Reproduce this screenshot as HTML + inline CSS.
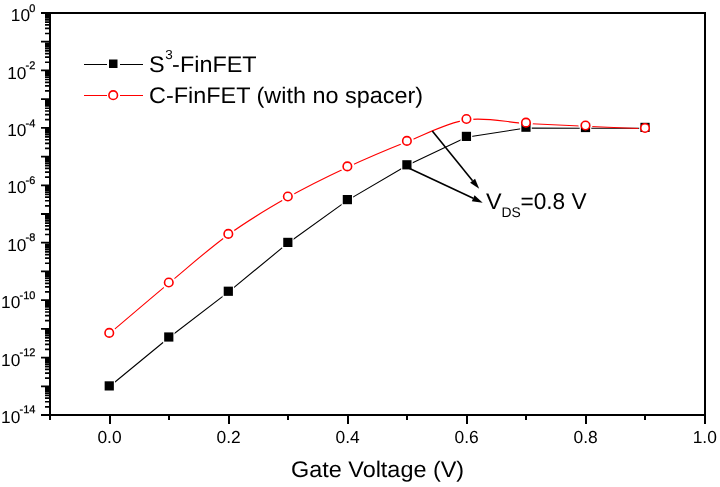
<!DOCTYPE html><html><head><meta charset="utf-8"><style>html,body{margin:0;padding:0;background:#fff;}svg{display:block;will-change:transform;}text{font-family:"Liberation Sans",sans-serif;fill:#000;text-rendering:geometricPrecision;}</style></head><body>
<svg width="720" height="487" viewBox="0 0 720 487">
<rect width="720" height="487" fill="#fff"/>
<g shape-rendering="crispEdges" fill="#000">
<rect x="49" y="12" width="657" height="2"/>
<rect x="49" y="414" width="657" height="2"/>
<rect x="49" y="12" width="2" height="404"/>
<rect x="704" y="12" width="2" height="404"/>
<rect x="41" y="12" width="8" height="2"/>
<rect x="41" y="414" width="8" height="2"/>
<rect x="109" y="416" width="2" height="8"/>
<rect x="168" y="416" width="2" height="4"/>
<rect x="228" y="416" width="2" height="8"/>
<rect x="287" y="416" width="2" height="4"/>
<rect x="347" y="416" width="2" height="8"/>
<rect x="406" y="416" width="2" height="4"/>
<rect x="466" y="416" width="2" height="8"/>
<rect x="525" y="416" width="2" height="4"/>
<rect x="585" y="416" width="2" height="8"/>
<rect x="644" y="416" width="2" height="4"/>
<rect x="704" y="416" width="2" height="8"/>
<rect x="49" y="416" width="2" height="4"/>
</g>
<path fill="#000" d="M45,32.67h4.5v1.7h-4.5zM45,27.61h4.5v1.7h-4.5zM45,24.03h4.5v1.7h-4.5zM45,21.24h4.5v1.7h-4.5zM45,18.97h4.5v1.7h-4.5zM45,17.05h4.5v1.7h-4.5zM45,15.38h4.5v1.7h-4.5zM45,13.91h4.5v1.7h-4.5zM41,40.81h8v1.8h-8zM45,61.38h4.5v1.7h-4.5zM45,56.33h4.5v1.7h-4.5zM45,52.74h4.5v1.7h-4.5zM45,49.96h4.5v1.7h-4.5zM45,47.68h4.5v1.7h-4.5zM45,45.76h4.5v1.7h-4.5zM45,44.10h4.5v1.7h-4.5zM45,42.63h4.5v1.7h-4.5zM41,69.53h8v1.8h-8zM45,90.10h4.5v1.7h-4.5zM45,85.04h4.5v1.7h-4.5zM45,81.46h4.5v1.7h-4.5zM45,78.67h4.5v1.7h-4.5zM45,76.40h4.5v1.7h-4.5zM45,74.48h4.5v1.7h-4.5zM45,72.81h4.5v1.7h-4.5zM45,71.34h4.5v1.7h-4.5zM41,98.24h8v1.8h-8zM45,118.81h4.5v1.7h-4.5zM45,113.76h4.5v1.7h-4.5zM45,110.17h4.5v1.7h-4.5zM45,107.39h4.5v1.7h-4.5zM45,105.11h4.5v1.7h-4.5zM45,103.19h4.5v1.7h-4.5zM45,101.53h4.5v1.7h-4.5zM45,100.06h4.5v1.7h-4.5zM41,126.96h8v1.8h-8zM45,147.53h4.5v1.7h-4.5zM45,142.47h4.5v1.7h-4.5zM45,138.88h4.5v1.7h-4.5zM45,136.10h4.5v1.7h-4.5zM45,133.83h4.5v1.7h-4.5zM45,131.91h4.5v1.7h-4.5zM45,130.24h4.5v1.7h-4.5zM45,128.77h4.5v1.7h-4.5zM41,155.67h8v1.8h-8zM45,176.24h4.5v1.7h-4.5zM45,171.19h4.5v1.7h-4.5zM45,167.60h4.5v1.7h-4.5zM45,164.82h4.5v1.7h-4.5zM45,162.54h4.5v1.7h-4.5zM45,160.62h4.5v1.7h-4.5zM45,158.95h4.5v1.7h-4.5zM45,157.49h4.5v1.7h-4.5zM41,184.39h8v1.8h-8zM45,204.96h4.5v1.7h-4.5zM45,199.90h4.5v1.7h-4.5zM45,196.31h4.5v1.7h-4.5zM45,193.53h4.5v1.7h-4.5zM45,191.26h4.5v1.7h-4.5zM45,189.33h4.5v1.7h-4.5zM45,187.67h4.5v1.7h-4.5zM45,186.20h4.5v1.7h-4.5zM41,213.10h8v1.8h-8zM45,233.67h4.5v1.7h-4.5zM45,228.61h4.5v1.7h-4.5zM45,225.03h4.5v1.7h-4.5zM45,222.24h4.5v1.7h-4.5zM45,219.97h4.5v1.7h-4.5zM45,218.05h4.5v1.7h-4.5zM45,216.38h4.5v1.7h-4.5zM45,214.91h4.5v1.7h-4.5zM41,241.81h8v1.8h-8zM45,262.38h4.5v1.7h-4.5zM45,257.33h4.5v1.7h-4.5zM45,253.74h4.5v1.7h-4.5zM45,250.96h4.5v1.7h-4.5zM45,248.68h4.5v1.7h-4.5zM45,246.76h4.5v1.7h-4.5zM45,245.10h4.5v1.7h-4.5zM45,243.63h4.5v1.7h-4.5zM41,270.53h8v1.8h-8zM45,291.10h4.5v1.7h-4.5zM45,286.04h4.5v1.7h-4.5zM45,282.46h4.5v1.7h-4.5zM45,279.67h4.5v1.7h-4.5zM45,277.40h4.5v1.7h-4.5zM45,275.48h4.5v1.7h-4.5zM45,273.81h4.5v1.7h-4.5zM45,272.34h4.5v1.7h-4.5zM41,299.24h8v1.8h-8zM45,319.81h4.5v1.7h-4.5zM45,314.76h4.5v1.7h-4.5zM45,311.17h4.5v1.7h-4.5zM45,308.39h4.5v1.7h-4.5zM45,306.11h4.5v1.7h-4.5zM45,304.19h4.5v1.7h-4.5zM45,302.53h4.5v1.7h-4.5zM45,301.06h4.5v1.7h-4.5zM41,327.96h8v1.8h-8zM45,348.53h4.5v1.7h-4.5zM45,343.47h4.5v1.7h-4.5zM45,339.88h4.5v1.7h-4.5zM45,337.10h4.5v1.7h-4.5zM45,334.83h4.5v1.7h-4.5zM45,332.91h4.5v1.7h-4.5zM45,331.24h4.5v1.7h-4.5zM45,329.77h4.5v1.7h-4.5zM41,356.67h8v1.8h-8zM45,377.24h4.5v1.7h-4.5zM45,372.19h4.5v1.7h-4.5zM45,368.60h4.5v1.7h-4.5zM45,365.82h4.5v1.7h-4.5zM45,363.54h4.5v1.7h-4.5zM45,361.62h4.5v1.7h-4.5zM45,359.95h4.5v1.7h-4.5zM45,358.49h4.5v1.7h-4.5zM41,385.39h8v1.8h-8zM45,405.96h4.5v1.7h-4.5zM45,400.90h4.5v1.7h-4.5zM45,397.31h4.5v1.7h-4.5zM45,394.53h4.5v1.7h-4.5zM45,392.26h4.5v1.7h-4.5zM45,390.33h4.5v1.7h-4.5zM45,388.67h4.5v1.7h-4.5zM45,387.20h4.5v1.7h-4.5z"/>
<text x="109.5" y="443" font-size="17.4" text-anchor="middle">0.0</text>
<text x="228.6" y="443" font-size="17.4" text-anchor="middle">0.2</text>
<text x="347.6" y="443" font-size="17.4" text-anchor="middle">0.4</text>
<text x="466.7" y="443" font-size="17.4" text-anchor="middle">0.6</text>
<text x="585.7" y="443" font-size="17.4" text-anchor="middle">0.8</text>
<text x="704.8" y="443" font-size="17.4" text-anchor="middle">1.0</text>
<text x="35.4" y="21.30" font-size="17.3" text-anchor="end">10<tspan font-size="11" dx="-0.8" dy="-9.50" stroke="#000" stroke-width="0.25">0</tspan></text>
<text x="35.4" y="78.73" font-size="17.3" text-anchor="end">10<tspan font-size="11" dx="-0.8" dy="-9.73" stroke="#000" stroke-width="0.25">-2</tspan></text>
<text x="35.4" y="135.86" font-size="17.3" text-anchor="end">10<tspan font-size="11" dx="-0.8" dy="-9.06" stroke="#000" stroke-width="0.25">-4</tspan></text>
<text x="35.4" y="193.19" font-size="17.3" text-anchor="end">10<tspan font-size="11" dx="-0.8" dy="-9.40" stroke="#000" stroke-width="0.25">-6</tspan></text>
<text x="35.4" y="250.61" font-size="17.3" text-anchor="end">10<tspan font-size="11" dx="-0.8" dy="-9.70" stroke="#000" stroke-width="0.25">-8</tspan></text>
<text x="35.4" y="307.74" font-size="17.3" text-anchor="end">10<tspan font-size="11" dx="-0.8" dy="-9.24" stroke="#000" stroke-width="0.25">-10</tspan></text>
<text x="35.4" y="365.87" font-size="17.3" text-anchor="end">10<tspan font-size="11" dx="-0.8" dy="-10.07" stroke="#000" stroke-width="0.25">-12</tspan></text>
<text x="35.4" y="422.85" font-size="17.3" text-anchor="end">10<tspan font-size="11" dx="-0.8" dy="-9.55" stroke="#000" stroke-width="0.25">-14</tspan></text>
<text transform="translate(377.6,477) scale(1.036,1)" font-size="22.6" text-anchor="middle">Gate Voltage (V)</text>
<defs><mask id="mb" maskUnits="userSpaceOnUse" x="0" y="0" width="720" height="487"><rect width="720" height="487" fill="#fff"/>
<rect x="103.45" y="380.10" width="11.6" height="11.6" fill="#000"/>
<rect x="162.98" y="331.20" width="11.6" height="11.6" fill="#000"/>
<rect x="222.51" y="285.45" width="11.6" height="11.6" fill="#000"/>
<rect x="282.04" y="236.60" width="11.6" height="11.6" fill="#000"/>
<rect x="341.57" y="193.80" width="11.6" height="11.6" fill="#000"/>
<rect x="401.10" y="159.00" width="11.6" height="11.6" fill="#000"/>
<rect x="460.63" y="130.60" width="11.6" height="11.6" fill="#000"/>
<rect x="520.16" y="121.40" width="11.6" height="11.6" fill="#000"/>
<rect x="579.69" y="121.70" width="11.6" height="11.6" fill="#000"/>
<rect x="639.22" y="121.60" width="11.6" height="11.6" fill="#000"/>
</mask><mask id="mr" maskUnits="userSpaceOnUse" x="0" y="0" width="720" height="487"><rect width="720" height="487" fill="#fff"/>
<circle cx="109.25" cy="332.90" r="7" fill="#000"/>
<circle cx="168.78" cy="282.50" r="7" fill="#000"/>
<circle cx="228.31" cy="233.90" r="7" fill="#000"/>
<circle cx="287.84" cy="196.55" r="7" fill="#000"/>
<circle cx="347.37" cy="166.40" r="7" fill="#000"/>
<circle cx="406.90" cy="140.90" r="7" fill="#000"/>
<circle cx="466.43" cy="119.05" r="7" fill="#000"/>
<circle cx="525.96" cy="122.65" r="7" fill="#000"/>
<circle cx="585.49" cy="125.50" r="7" fill="#000"/>
<circle cx="645.02" cy="127.95" r="7" fill="#000"/>
</mask></defs>
<polyline mask="url(#mb)" fill="none" stroke="#000" stroke-width="1.1" points="109.2,386.7 168.8,337.8 228.3,292.1 287.8,243.2 347.4,200.4 406.9,165.6 466.4,137.2 526.0,128.0 585.5,128.3 645.0,128.2"/>
<path mask="url(#mr)" fill="none" stroke="#f00" stroke-width="1.1" d="M109.25,333.70 C119.17,325.30 148.94,299.80 168.78,283.30 C188.62,266.80 208.47,249.03 228.31,234.70 C248.15,220.38 268.00,208.60 287.84,197.35 C307.68,186.10 327.53,176.48 347.37,167.20 C367.21,157.93 387.06,149.59 406.90,141.70 C426.74,133.81 446.59,122.89 466.43,119.85 C486.27,116.81 506.12,122.38 525.96,123.45 C545.80,124.53 565.65,125.42 585.49,126.30 C605.33,127.18 635.10,128.34 645.02,128.75"/>
<rect x="104.65" y="381.30" width="9.2" height="9.2" fill="#000"/>
<rect x="164.18" y="332.40" width="9.2" height="9.2" fill="#000"/>
<rect x="223.71" y="286.65" width="9.2" height="9.2" fill="#000"/>
<rect x="283.24" y="237.80" width="9.2" height="9.2" fill="#000"/>
<rect x="342.77" y="195.00" width="9.2" height="9.2" fill="#000"/>
<rect x="402.30" y="160.20" width="9.2" height="9.2" fill="#000"/>
<rect x="461.83" y="131.80" width="9.2" height="9.2" fill="#000"/>
<rect x="521.36" y="122.60" width="9.2" height="9.2" fill="#000"/>
<rect x="580.89" y="122.90" width="9.2" height="9.2" fill="#000"/>
<rect x="640.42" y="122.80" width="9.2" height="9.2" fill="#000"/>
<circle cx="109.25" cy="332.90" r="4.25" fill="#fff" stroke="#f00" stroke-width="1.6"/>
<circle cx="168.78" cy="282.50" r="4.25" fill="#fff" stroke="#f00" stroke-width="1.6"/>
<circle cx="228.31" cy="233.90" r="4.25" fill="#fff" stroke="#f00" stroke-width="1.6"/>
<circle cx="287.84" cy="196.55" r="4.25" fill="#fff" stroke="#f00" stroke-width="1.6"/>
<circle cx="347.37" cy="166.40" r="4.25" fill="#fff" stroke="#f00" stroke-width="1.6"/>
<circle cx="406.90" cy="140.90" r="4.25" fill="#fff" stroke="#f00" stroke-width="1.6"/>
<circle cx="466.43" cy="119.05" r="4.25" fill="#fff" stroke="#f00" stroke-width="1.6"/>
<circle cx="525.96" cy="122.65" r="4.25" fill="#fff" stroke="#f00" stroke-width="1.6"/>
<circle cx="585.49" cy="125.50" r="4.25" fill="#fff" stroke="#f00" stroke-width="1.6"/>
<circle cx="645.02" cy="127.95" r="4.25" fill="#fff" stroke="#f00" stroke-width="1.6"/>
<line x1="432.3" y1="131" x2="472.58" y2="180.65" stroke="#000" stroke-width="1.6"/>
<polygon fill="#000" points="479.20,188.80 470.10,182.66 475.07,178.63"/>
<line x1="407" y1="167.3" x2="473.19" y2="198.25" stroke="#000" stroke-width="1.6"/>
<polygon fill="#000" points="482.70,202.70 471.83,201.15 474.54,195.35"/>
<text transform="translate(486,209) scale(1.036,1)" font-size="22.6">V</text>
<text transform="translate(501.6,217) scale(0.99,1)" font-size="14">DS</text>
<text transform="translate(520.5,209) scale(0.985,1)" font-size="23">=0.8 V</text>
<g shape-rendering="crispEdges"><rect x="84" y="64" width="23" height="1" fill="#000"/><rect x="120" y="64" width="23" height="1" fill="#000"/>
<rect x="84" y="95" width="23" height="1" fill="#f00"/><rect x="120" y="95" width="23" height="1" fill="#f00"/></g>
<rect x="109" y="59.5" width="8.5" height="8.5" fill="#000"/>
<circle cx="113.2" cy="95.2" r="4.3" fill="#fff" stroke="#f00" stroke-width="1.6"/>
<text transform="translate(149,71.7) scale(1.036,1)" font-size="22.6">S<tspan font-size="13" dx="0.7" dy="-13">3</tspan><tspan dx="-0.7" dy="13">-FinFET</tspan></text>
<text transform="translate(149,103) scale(1.036,1)" font-size="22.6">C-FinFET (with no spacer)</text>
</svg></body></html>
